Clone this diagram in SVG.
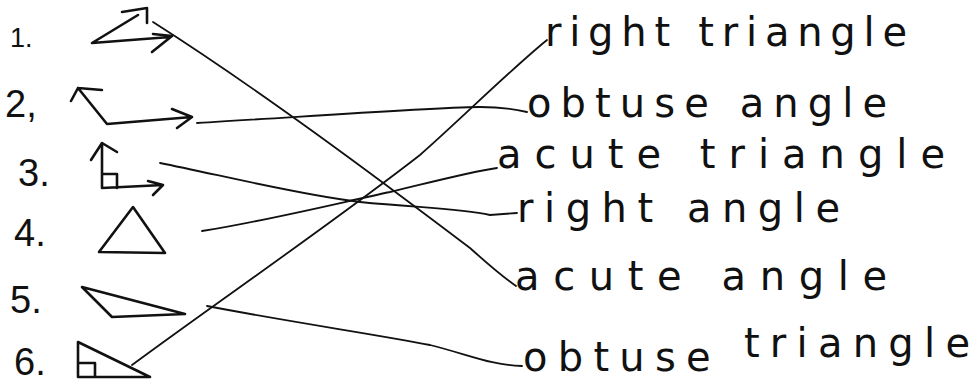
<svg xmlns="http://www.w3.org/2000/svg" width="980" height="385" viewBox="0 0 980 385">
<style>
.sh{fill:none;stroke:#111;stroke-width:2.6;stroke-linejoin:round;stroke-linecap:round}
.cn{fill:none;stroke:#111;stroke-width:1.8;stroke-linecap:round}
.num{font-family:"Liberation Sans",Arial,sans-serif;font-size:38px;fill:#111}
.lbl{font-family:"DejaVu Sans","Liberation Sans",sans-serif;font-size:40px;fill:#111}
</style>
<rect width="980" height="385" fill="#fff"/>
<g id="item1">
<text class="num" x="10" y="47" style="font-size:27px">1.</text>
<path class="sh" d="M138,15 L92,43 L170,37 M122,12 L147,8 L147,23 M153,34 L172,36 L152,52"/>
</g>
<g id="item2">
<text class="num" x="5" y="117">2,</text>
<path class="sh" d="M78,88 L107,124 L192,117 M102,90 L78,88 L71,101 M172,109 L192,117 L177,128"/>
</g>
<g id="item3">
<text class="num" x="18" y="186">3.</text>
<path class="sh" d="M102,145 L102,188 L163,185 M91,160 L102,143 L117,152 M148,181 L163,185 L153,195 M102,174 L117,174 L117,188"/>
</g>
<g id="item4">
<text class="num" x="14" y="246">4.</text>
<path class="sh" d="M133,207 L99,252 L165,253 Z"/>
</g>
<g id="item5">
<text class="num" x="10" y="313">5.</text>
<path class="sh" d="M82,287 L112,317 L185,314 Z"/>
</g>
<g id="item6">
<text class="num" x="14" y="375">6.</text>
<path class="sh" d="M78,342 L78,377 L150,377 Z M78,363 H95 V377"/>
</g>
<g id="label-right-triangle"><text class="lbl" x="545" y="46" textLength="362" lengthAdjust="spacing">right triangle</text></g>
<g id="label-obtuse-angle"><text class="lbl" x="527" y="117" textLength="360" lengthAdjust="spacing">obtuse angle</text></g>
<g id="label-acute-triangle"><text class="lbl" x="497" y="168" textLength="448" lengthAdjust="spacing">acute triangle</text></g>
<g id="label-right-angle"><text class="lbl" x="517" y="222" textLength="323" lengthAdjust="spacing">right angle</text></g>
<g id="label-acute-angle"><text class="lbl" x="515" y="290" textLength="372" lengthAdjust="spacing">acute angle</text></g>
<g id="label-obtuse-triangle"><text class="lbl" x="523" y="371" textLength="447" lengthAdjust="spacing">obtuse <tspan dy="-14">triangle</tspan></text></g>
<g id="connectors">
<path class="cn" d="M153,22 C260,90 380,180 470,248 Q500,275 516,286"/>
<path class="cn" d="M197,123 C300,117 420,108 480,107 Q505,107 527,112"/>
<path class="cn" d="M160,163 C220,175 300,195 360,202 C420,208 460,208 490,215 L517,213"/>
<path class="cn" d="M202,231 C260,222 330,205 390,192 C440,180 470,172 497,168"/>
<path class="cn" d="M207,306 C290,322 380,335 430,345 C470,355 490,365 522,366"/>
<path class="cn" d="M132,365 C220,300 330,225 420,155 C460,120 510,70 547,40"/>
</g>
</svg>
